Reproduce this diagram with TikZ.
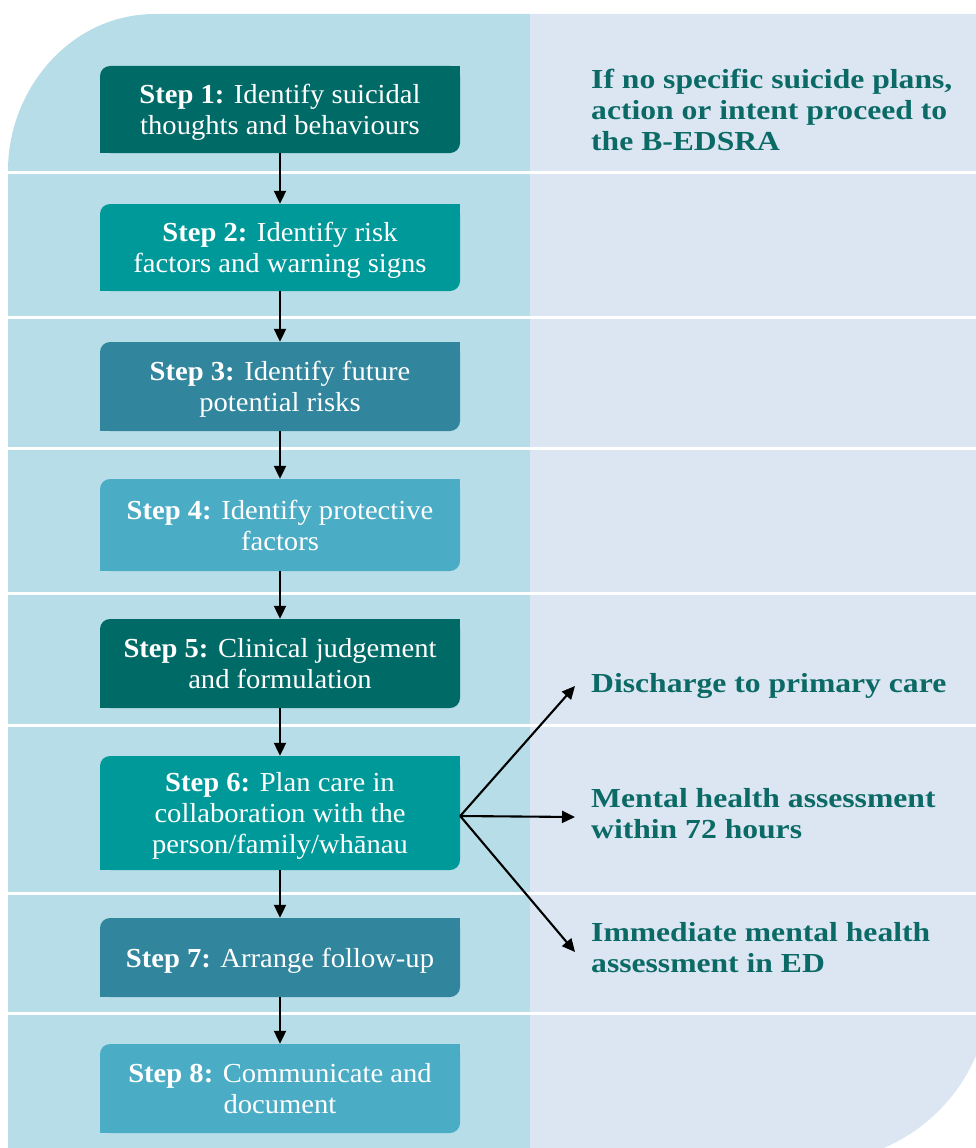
\documentclass[tikz,border=0pt]{standalone}
\usepackage{fontspec}
\setmainfont{Liberation Serif}[FakeStretch=1.04]
\newfontfamily\rightfont{Liberation Serif}[FakeStretch=1.15]
\usetikzlibrary{arrows.meta}
\definecolor{leftbg}{HTML}{B7DEE8}
\definecolor{rightbg}{HTML}{DCE6F2}
\definecolor{cdark}{HTML}{006A66}
\definecolor{cteal}{HTML}{009999}
\definecolor{cblue}{HTML}{31859C}
\definecolor{clight}{HTML}{4BACC6}
\definecolor{rtext}{HTML}{0B6A66}
\tikzset{
  stepbox/.style={rectangle, rounded corners=10pt, minimum width=360pt, inner sep=0pt,
    text depth=0pt, align=center, text=white, font=\fontsize{27.5}{31}\selectfont},
  righttext/.style={anchor=west, align=left, inner sep=0pt, text=rtext,
    font=\rightfont\bfseries\fontsize{27.5}{31}\selectfont},
  flow/.style={line width=2.1pt, -{Triangle[length=13pt,width=12pt]}},
  sep/.style={white, line width=3pt}
}
\begin{document}
\begin{tikzpicture}[x=1pt,y=-1pt]
\useasboundingbox (0,0) rectangle (976,1148);
\begin{scope}
  \clip (8,170) .. controls (8,90) and (70,14) .. (155,14) -- (990,14) -- (990,987)
        .. controls (990,1083.7) and (911.7,1162) .. (815,1162) -- (8,1162) -- cycle;
  \fill[leftbg] (0,0) rectangle (530,1170);
  \fill[rightbg] (530,0) rectangle (1000,1170);
  \foreach \yy in {172,317,448,593,725,893,1013} {
    \draw[sep] (0,\yy) -- (1000,\yy);
  }
\end{scope}
% steps
\node[stepbox, fill=cdark, minimum height=87pt] (s1) at (280,109.5) {\textbf{Step 1:} Identify suicidal\\thoughts and behaviours};
\node[stepbox, fill=cteal, minimum height=87pt] (s2) at (280,247.5) {\textbf{Step 2:} Identify risk\\factors and warning signs};
\node[stepbox, fill=cblue, minimum height=89pt] (s3) at (280,386.5) {\textbf{Step 3:} Identify future\\potential risks};
\node[stepbox, fill=clight, minimum height=92pt] (s4) at (280,525) {\textbf{Step 4:} Identify protective\\factors};
\node[stepbox, fill=cdark, minimum height=89pt] (s5) at (280,663.5) {\textbf{Step 5:} Clinical judgement\\and formulation};
\node[stepbox, fill=cteal, minimum height=114pt] (s6) at (280,813) {\textbf{Step 6:} Plan care in\\collaboration with the\\person/family/whānau};
\node[stepbox, fill=cblue, minimum height=79pt] (s7) at (280,957.5) {\textbf{Step 7:} Arrange follow-up};
\node[stepbox, fill=clight, minimum height=89pt] (s8) at (280,1088.5) {\textbf{Step 8:} Communicate and\\document};
\foreach \n/\c in {s1/cdark,s2/cteal,s3/cblue,s4/clight,s5/cdark,s6/cteal,s7/cblue,s8/clight} {
  \fill[\c] (\n.north east) rectangle ++(-12,12);
  \fill[\c] (\n.south west) rectangle ++(12,-12);
}
% right texts
\node[righttext] (r1) at (591,110) {If no specific suicide plans,\\action or intent proceed to\\the B-EDSRA};
\node[righttext] (r2) at (591,686) {Discharge to primary care};
\node[righttext] (r3) at (591,814) {Mental health assessment\\within 72 hours};
\node[righttext] (r4) at (591,948) {Immediate mental health\\assessment in ED};
% connectors
\foreach \a/\b in {s1/s2,s2/s3,s3/s4,s4/s5,s5/s6,s6/s7,s7/s8} {
  \draw[flow] (\a.south) -- (\b.north);
}
\coordinate (fan) at ([yshift=-3pt]s6.east);
\coordinate (t2) at ([xshift=-16pt]r2.west);
\coordinate (t3) at ([xshift=-16pt,yshift=-3pt]r3.west);
\coordinate (t4) at ([xshift=-16pt,yshift=-4pt]r4.west);
\draw[flow] (fan) -- (t2);
\draw[flow] (fan) -- (t3);
\draw[flow] (fan) -- (t4);
\end{tikzpicture}
\end{document}
